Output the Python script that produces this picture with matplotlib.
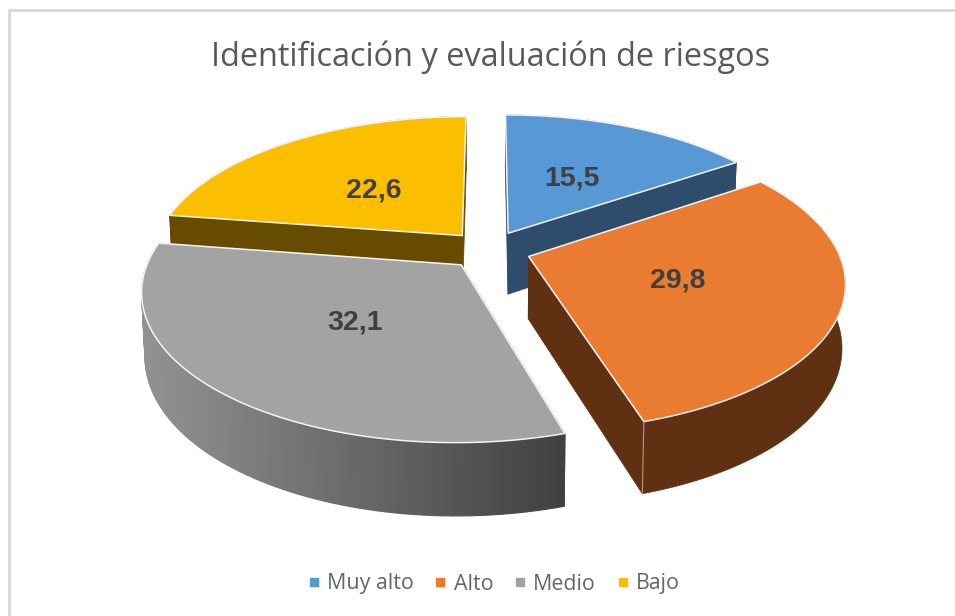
import numpy as np
import matplotlib
matplotlib.use("Agg")
import matplotlib.pyplot as plt
from matplotlib.patches import Polygon
from matplotlib.lines import Line2D

labels = ["Muy alto", "Alto", "Medio", "Bajo"]
values = [15.5, 29.8, 32.1, 22.6]
colors = ["#5898d4", "#ea7c31", "#a3a3a3", "#fcbf00"]
sides = ["#2e4d6c", "#5f3012", None, "#664b00"]
# label spots in pixels, picture coords
label_x = [572, 678, 355, 374]
label_y = [178, 281, 322, 190]

# fake 3d view
cx, cy = 489, 250
R = 309
Rt = 143
k = 0.165
explode = 0.135


def project(u, v):
    p = 1 / (1 - k * v)
    return cx + R * u * p, cy + Rt * v * p


def height(v):
    return 62 / (1 - 0.14 * v)


fig = plt.figure(figsize=(9.55, 6.16), dpi=100)
ax = fig.add_axes([0, 0, 1, 1])
ax.set_xlim(0, 955)
ax.set_ylim(616, 0)
ax.axis("off")

# chart frame, runs off the right and bottom
ax.plot([9, 9, 955], [616, 10, 10], color="#d9d9d9", lw=2)

ends = np.cumsum(values) / np.sum(values) * 2 * np.pi
starts = ends - np.array(values) / np.sum(values) * 2 * np.pi

# back slices first
for i in [0, 3, 2, 1]:
    t = np.linspace(starts[i], ends[i], 80)
    mid = (starts[i] + ends[i]) / 2
    ou, ov = explode * np.sin(mid), -explode * np.cos(mid)
    u = np.concatenate([[ou], ou + np.sin(t), [ou]])
    v = np.concatenate([[ov], ov - np.cos(t), [ov]])
    x, y = project(u, v)
    # bottom ring sits a bit narrower
    xb = cx + (x - cx) * 0.99
    yb = y + height(v)

    if sides[i] is None:
        for j in range(len(x) - 1):
            quad = [(x[j], y[j]), (x[j + 1], y[j + 1]), (xb[j + 1], yb[j + 1]), (xb[j], yb[j])]
            g = np.interp((x[j] + x[j + 1]) / 2, [145, 567], [0.57, 0.25])
            ax.add_patch(Polygon(quad, closed=True, facecolor=(g, g, g), edgecolor=(g, g, g), lw=0.8))
    else:
        # rim band, then the two cut faces
        band = np.column_stack([np.r_[x[1:-1], xb[1:-1][::-1]], np.r_[y[1:-1], yb[1:-1][::-1]]])
        ax.add_patch(Polygon(band, closed=True, facecolor=sides[i], edgecolor=sides[i], lw=0.5))
        for a, b in [(0, 1), (-2, -1)]:
            quad = [(x[a], y[a]), (x[b], y[b]), (xb[b], yb[b]), (xb[a], yb[a])]
            ax.add_patch(Polygon(quad, closed=True, facecolor=sides[i], edgecolor=sides[i], lw=0.5))

    ax.add_patch(Polygon(np.column_stack([x, y]), closed=True, facecolor=colors[i],
                         edgecolor="#f4f4f4", lw=1.1))
    if i == 1:
        ax.plot([x[-2], xb[-2]], [y[-2], yb[-2]], color="#b79a85", lw=0.8)

    ax.text(label_x[i], label_y[i], f"{values[i]:.1f}".replace(".", ","), ha="center", va="center",
            fontsize=20.5, fontweight="bold", color="#404040", family="Liberation Sans", zorder=5)

ax.text(490.5, 57, "Identificación y evaluación de riesgos", ha="center", va="center",
        fontsize=23.4, color="#595959", family="Open Sans")

handles = [Line2D([], [], ls="", marker="s", ms=6.2, color=c) for c in colors]
ax.legend(handles, labels, loc="center", bbox_to_anchor=(490, 584), bbox_transform=ax.transData,
          ncol=4, frameon=False, handletextpad=0.0, columnspacing=0.62, handlelength=1.25,
          prop={"family": "Open Sans", "size": 15.4}, labelcolor="#666666")

fig.savefig("out.png", dpi=100)
